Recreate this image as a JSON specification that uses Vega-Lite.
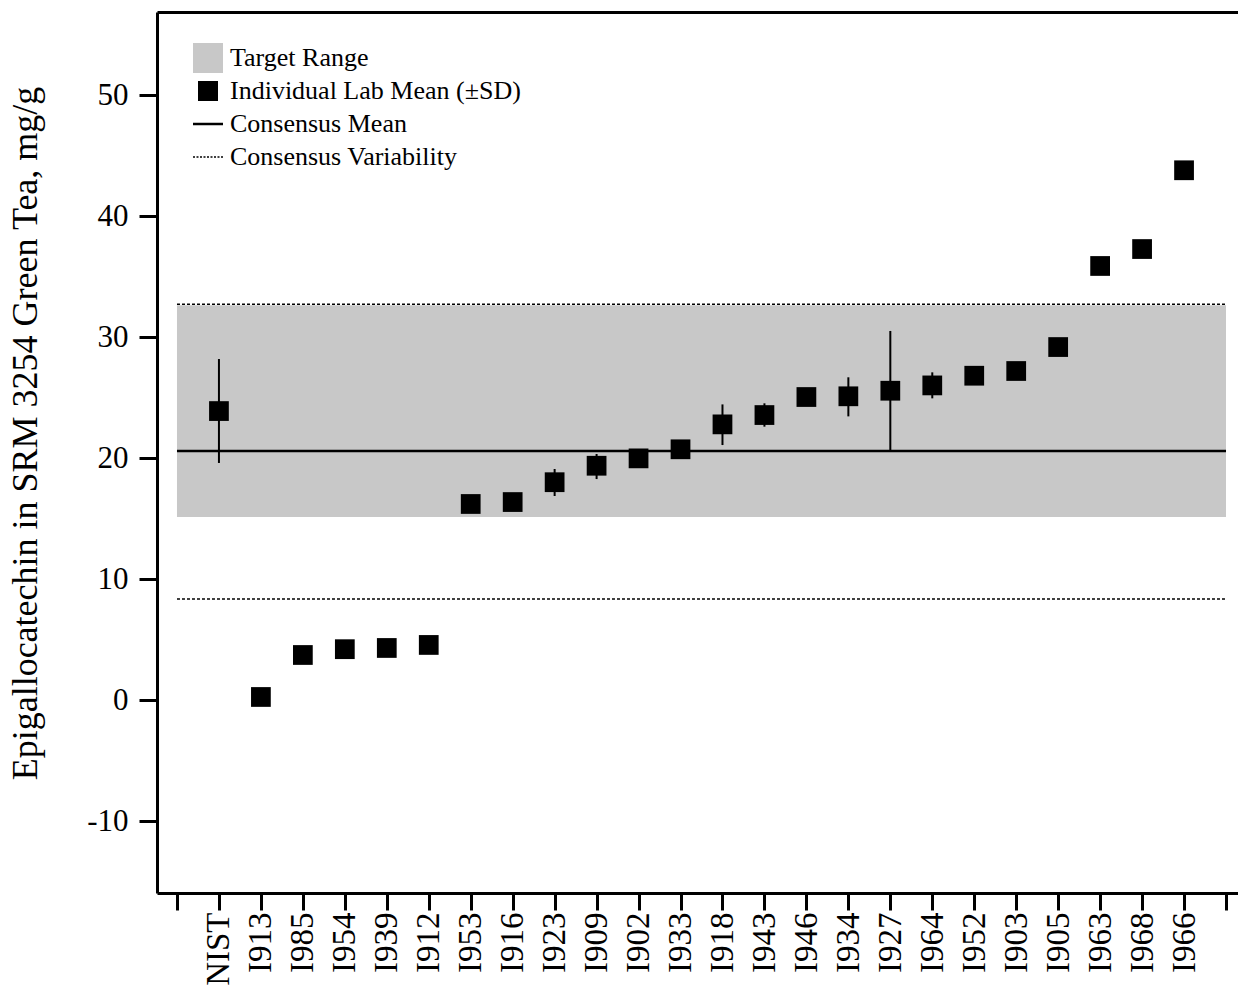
{
  "$schema": "https://vega.github.io/schema/vega-lite/v6.json",
  "width": 1081,
  "height": 881,
  "autosize": {"type": "none"},
  "padding": {"left": 157, "top": 12, "right": 0, "bottom": 98},
  "background": "white",
  "config": {
    "view": {"stroke": null},
    "font": "Liberation Serif",
    "axis": {
      "domainColor": "black",
      "domainWidth": 3,
      "tickColor": "black",
      "tickWidth": 3,
      "grid": false,
      "labelColor": "black",
      "labelFont": "Liberation Serif",
      "titleFont": "Liberation Serif",
      "titleColor": "black",
      "titleFontWeight": "normal"
    },
    "legend": {
      "labelFont": "Liberation Serif",
      "labelColor": "black"
    }
  },
  "datasets": {
    "labs": [
      {"lab": "NIST", "mean": 23.88, "lo": 19.59, "hi": 28.18},
      {"lab": "I913", "mean": 0.25, "lo": 0.0, "hi": 0.5},
      {"lab": "I985", "mean": 3.72, "lo": 3.42, "hi": 4.02},
      {"lab": "I954", "mean": 4.2, "lo": 3.9, "hi": 4.5},
      {"lab": "I939", "mean": 4.3, "lo": 4.0, "hi": 4.6},
      {"lab": "I912", "mean": 4.55, "lo": 4.25, "hi": 4.85},
      {"lab": "I953", "mean": 16.2, "lo": 15.9, "hi": 16.5},
      {"lab": "I916", "mean": 16.36, "lo": 16.06, "hi": 16.66},
      {"lab": "I923", "mean": 18.0, "lo": 16.86, "hi": 19.09},
      {"lab": "I909", "mean": 19.36, "lo": 18.26, "hi": 20.33},
      {"lab": "I902", "mean": 19.97, "lo": 19.5, "hi": 20.45},
      {"lab": "I933", "mean": 20.72, "lo": 20.32, "hi": 21.12},
      {"lab": "I918", "mean": 22.78, "lo": 21.07, "hi": 24.43},
      {"lab": "I943", "mean": 23.55, "lo": 22.59, "hi": 24.52},
      {"lab": "I946", "mean": 25.04, "lo": 24.6, "hi": 25.45},
      {"lab": "I934", "mean": 25.1, "lo": 23.44, "hi": 26.67},
      {"lab": "I927", "mean": 25.56, "lo": 20.6, "hi": 30.5},
      {"lab": "I964", "mean": 26.0, "lo": 24.93, "hi": 27.08},
      {"lab": "I952", "mean": 26.8, "lo": 26.4, "hi": 27.2},
      {"lab": "I903", "mean": 27.19, "lo": 26.8, "hi": 27.6},
      {"lab": "I905", "mean": 29.17, "lo": 28.8, "hi": 29.55},
      {"lab": "I963", "mean": 35.87, "lo": 35.5, "hi": 36.25},
      {"lab": "I968", "mean": 37.27, "lo": 36.9, "hi": 37.65},
      {"lab": "I966", "mean": 43.78, "lo": 43.4, "hi": 44.15}
    ],
    "target": [{"lo": 15.12, "hi": 32.62}],
    "consensus": [{"value": 20.58}],
    "variability": [{"value": 32.7}, {"value": 8.35}]
  },
  "layer": [
    {
      "data": {"name": "target"},
      "mark": {"type": "rect"},
      "encoding": {
        "x": {
          "datum": "start",
          "type": "nominal",
          "scale": {
            "type": "point",
            "domain": ["start", "NIST", "I913", "I985", "I954", "I939", "I912", "I953", "I916", "I923", "I909", "I902", "I933", "I918", "I943", "I946", "I934", "I927", "I964", "I952", "I903", "I905", "I963", "I968", "I966", "end"],
            "padding": 0.381,
            "align": 0.625
          },
          "axis": {"orient": "top", "labels": false, "ticks": false, "domain": true, "title": null}
        },
        "x2": {"datum": "end"},
        "y": {
          "field": "lo",
          "type": "quantitative",
          "scale": {"domain": [-15.95, 56.86], "nice": false, "zero": false},
          "axis": {
            "title": "Epigallocatechin in SRM 3254 Green Tea, mg/g",
            "values": [-10, 0, 10, 20, 30, 40, 50],
            "labelExpr": "'' + datum.value",
            "tickSize": 18,
            "labelFontSize": 31,
            "labelPadding": 11,
            "titleFontSize": 36,
            "titlePadding": 42,
            "titleY": 421
          }
        },
        "y2": {"field": "hi"},
        "color": {
          "datum": "Target Range",
          "scale": {
            "domain": ["Target Range", "Individual Lab Mean (±SD)", "Consensus Mean", "Consensus Variability"],
            "range": ["#c8c8c8", "black", "black", "black"]
          },
          "legend": {
            "title": null,
            "orient": "none",
            "legendX": 38,
            "legendY": 33,
            "padding": 0,
            "labelFontSize": 26,
            "labelOffset": 9,
            "labelLimit": 0,
            "symbolSize": 900,
            "rowPadding": 2,
            "gridAlign": "all",
            "encode": {
              "symbols": {
                "update": {
                  "shape": {"signal": "datum.value === 'Target Range' || datum.value === 'Individual Lab Mean (±SD)' ? 'square' : 'stroke'"},
                  "size": {"signal": "datum.value === 'Target Range' ? 784 : datum.value === 'Individual Lab Mean (±SD)' ? 400 : 900"},
                  "strokeWidth": {"signal": "datum.value === 'Target Range' ? 2 : datum.value === 'Individual Lab Mean (±SD)' ? 0 : datum.value === 'Consensus Mean' ? 2.5 : 1.5"},
                  "strokeDash": {"signal": "datum.value === 'Consensus Variability' ? [2, 1.5] : null"},
                  "strokeOpacity": {"value": 1},
                  "fillOpacity": {"value": 1},
                  "opacity": {"value": 1}
                }
              }
            }
          }
        }
      }
    },
    {
      "data": {"name": "variability"},
      "mark": {"type": "rule", "strokeWidth": 1.5, "strokeDash": [3, 2]},
      "encoding": {
        "x": {"datum": "start", "type": "nominal", "axis": null},
        "x2": {"datum": "end"},
        "y": {"field": "value", "type": "quantitative"},
        "color": {"datum": "Consensus Variability"}
      }
    },
    {
      "data": {"name": "consensus"},
      "mark": {"type": "rule", "strokeWidth": 2.5},
      "encoding": {
        "x": {"datum": "start", "type": "nominal", "axis": null},
        "x2": {"datum": "end"},
        "y": {"field": "value", "type": "quantitative"},
        "color": {"datum": "Consensus Mean"}
      }
    },
    {
      "data": {"name": "labs"},
      "mark": {"type": "rule", "color": "black", "strokeWidth": 2},
      "encoding": {
        "x": {"field": "lab", "type": "nominal", "axis": null},
        "y": {"field": "lo", "type": "quantitative"},
        "y2": {"field": "hi"}
      }
    },
    {
      "data": {"name": "labs"},
      "mark": {"type": "square", "filled": true, "size": 390, "opacity": 1},
      "encoding": {
        "x": {
          "field": "lab",
          "type": "nominal",
          "axis": {
            "orient": "bottom",
            "title": null,
            "labelAngle": -90,
            "labelFontSize": 33,
            "labelPadding": 2,
            "tickSize": 17,
            "labelExpr": "datum.value === 'start' || datum.value === 'end' ? '' : datum.value"
          }
        },
        "y": {"field": "mean", "type": "quantitative"},
        "color": {"datum": "Individual Lab Mean (±SD)"}
      }
    }
  ],
  "resolve": {"axis": {"x": "independent"}}
}
